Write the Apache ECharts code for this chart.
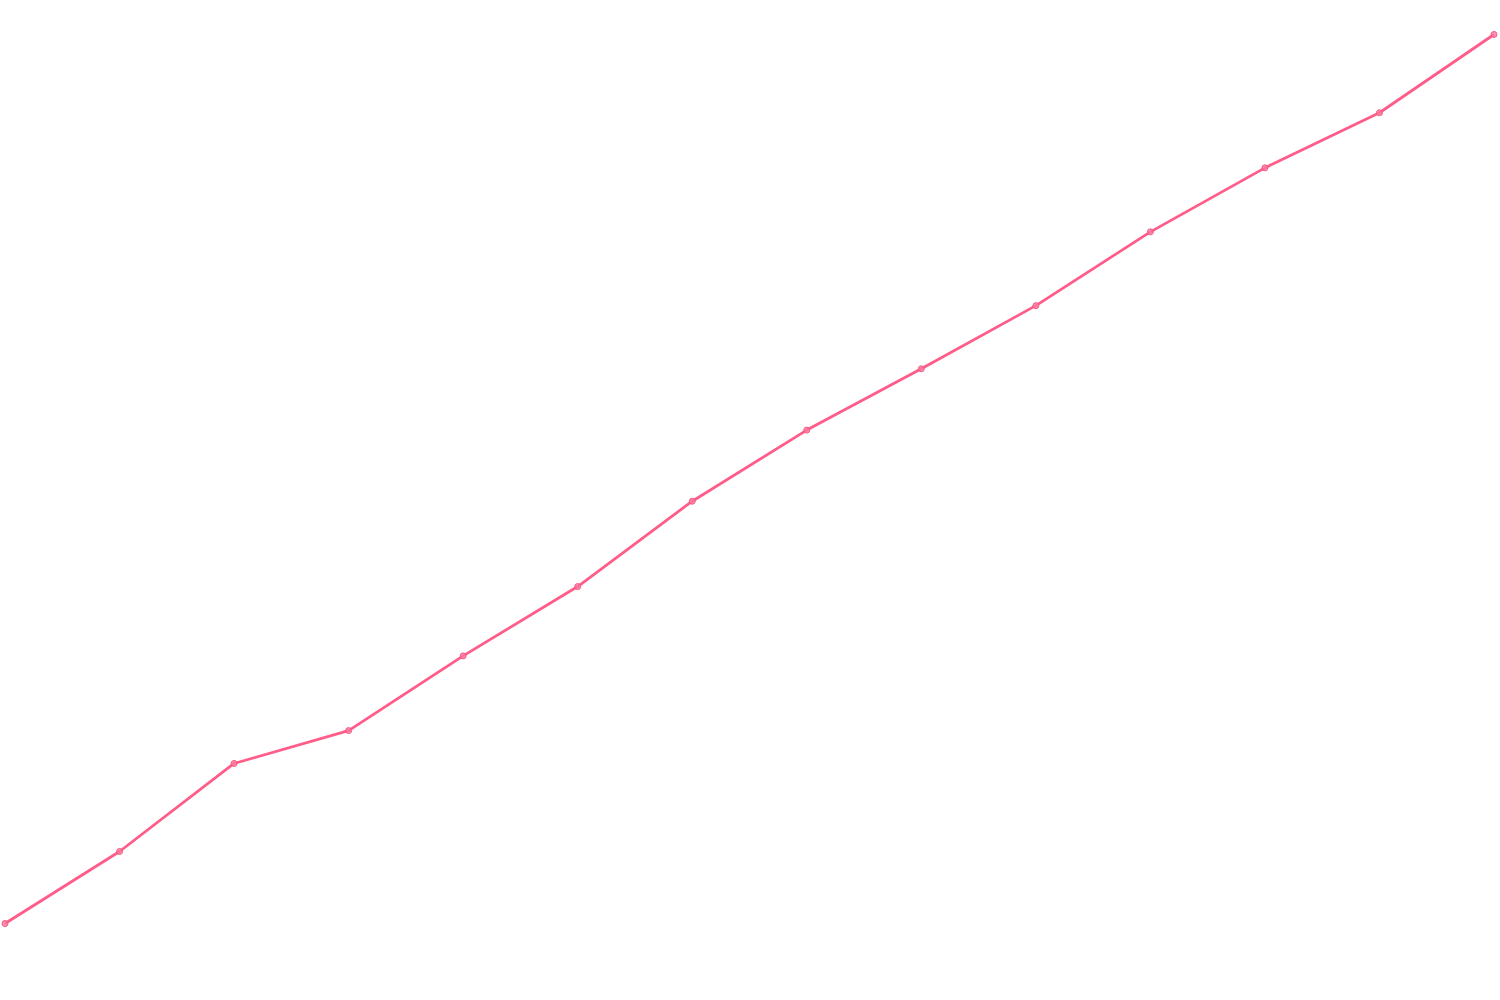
<!DOCTYPE html>
<html>
<head>
<meta charset="utf-8">
<script src="https://cdn.jsdelivr.net/npm/echarts@6/dist/echarts.min.js"></script>
<style>
  html, body { margin: 0; padding: 0; background: #fff; }
  #chart { width: 1500px; height: 1000px; }
</style>
</head>
<body>
<div id="chart"></div>
<script>
// 数据
var categories = ['1', '2', '3', '4', '5', '6', '7', '8', '9', '10', '11', '12', '13', '14'];
var values = [0, 8.1, 18.0, 21.7, 30.1, 37.9, 47.5, 55.5, 62.4, 69.5, 77.8, 85.0, 91.2, 100];

var myChart = echarts.init(document.getElementById('chart'));

var option = {
    animation: false,
    grid: {
        left: 5,
        right: 6,
        top: 34.5,
        bottom: 76.5
    },
    xAxis: {
        type: 'category',
        boundaryGap: false,
        show: false,
        data: categories
    },
    yAxis: {
        type: 'value',
        show: false,
        min: 0,
        max: 100
    },
    series: [{
        type: 'line',
        data: values,
        symbol: 'circle',
        symbolSize: 6,
        lineStyle: {
            color: 'rgb(255, 92, 138)',
            width: 2.8
        },
        itemStyle: {
            color: 'rgba(255, 120, 160, 0.8)',
            borderColor: 'rgb(240, 90, 130)',
            borderWidth: 1
        }
    }]
};

myChart.setOption(option);
</script>
</body>
</html>
